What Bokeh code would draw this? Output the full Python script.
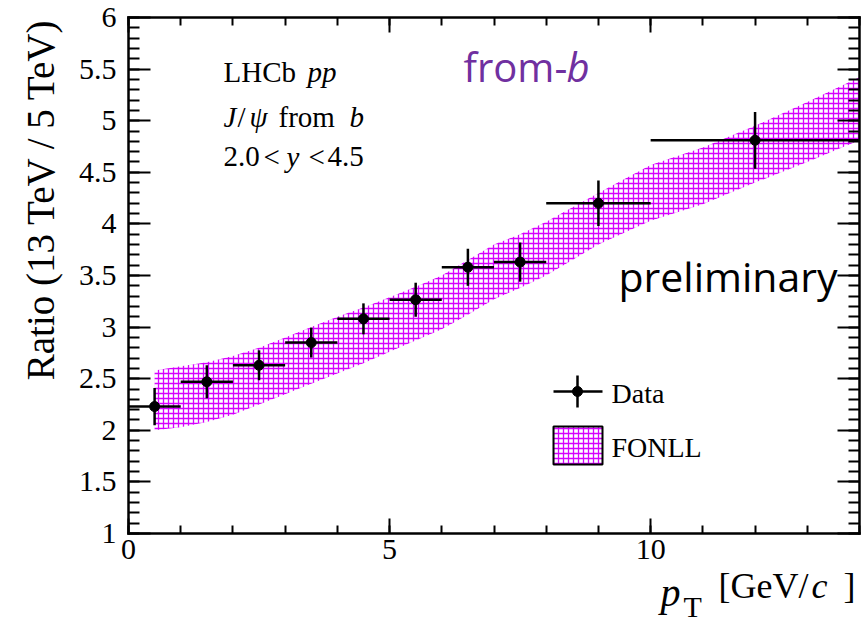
import math
from bokeh.plotting import figure
from bokeh.models import Range1d, FixedTicker, LinearAxis, Label, BoxAnnotation, Arrow
from bokeh.embed import file_html
from bokeh.resources import INLINE

# ---------------- data ----------------
bin_lo = [0, 1, 2, 3, 4, 5, 6, 7, 8, 10]
bin_hi = [1, 2, 3, 4, 5, 6, 7, 8, 10, 14]
bin_center = [0.5, 1.5, 2.5, 3.5, 4.5, 5.5, 6.5, 7.5, 9, 12]
ratio = [2.23, 2.47, 2.63, 2.85, 3.08, 3.265, 3.58, 3.63, 4.20, 4.81]
ratio_err = [0.18, 0.16, 0.145, 0.145, 0.15, 0.165, 0.18, 0.19, 0.22, 0.275]

fonll_pt = [0.5, 1, 1.5, 2, 2.5, 3, 3.5, 4, 4.5, 5, 5.5, 6, 6.5, 7, 7.5, 8, 9, 10, 11, 12, 13, 14]
fonll_hi = [2.58, 2.62, 2.66, 2.72, 2.80, 2.90, 3.00, 3.10, 3.19, 3.29, 3.39, 3.50, 3.65, 3.80, 3.90, 4.02, 4.30, 4.57, 4.74, 4.95, 5.18, 5.42]
fonll_lo = [2.00, 2.03, 2.08, 2.15, 2.25, 2.35, 2.45, 2.55, 2.65, 2.76, 2.87, 2.98, 3.12, 3.27, 3.38, 3.50, 3.80, 4.03, 4.19, 4.40, 4.60, 4.81]

x_ticks = [0, 5, 10]
x_tick_labels = ["0", "5", "10"]
y_ticks = [1, 1.5, 2, 2.5, 3, 3.5, 4, 4.5, 5, 5.5, 6]
y_tick_labels = ["1", "1.5", "2", "2.5", "3", "3.5", "4", "4.5", "5", "5.5", "6"]

MAG = "#D600FF"
SERIF = "Liberation Serif"
SANS = "Open Sans"

# ---------------- layout ----------------
W, H = 864, 626
FL, FR, FT, FB = 128, 859, 17, 533          # pixel box of the data area
XMIN, XMAX, YMIN, YMAX = 0, 14, 1, 6
SX = (XMAX - XMIN) / (FR - FL)
SY = (YMAX - YMIN) / (FB - FT)


def X(px):
    return XMIN + (px - FL) * SX


def Y(py):
    return YMAX - (py - FT) * SY


# the Bokeh frame covers the whole canvas; axes are pinned to the data box
p = figure(width=W, height=H,
           x_range=Range1d(X(0), X(W)), y_range=Range1d(Y(H), Y(0)),
           output_backend="svg", toolbar_location=None,
           min_border_left=0, min_border_right=0, min_border_top=0, min_border_bottom=0,
           background_fill_color="white", border_fill_color="white")
p.grid.visible = False
p.outline_line_color = None

x_minor = list(range(0, 15))
y_minor = [round(1 + 0.1 * i, 2) for i in range(51)]


def style_axis(ax, ticks, minor, labels, maj_len, min_len, show_labels, standoff, loc, bounds):
    ax.fixed_location = loc
    ax.bounds = bounds
    ax.ticker = FixedTicker(ticks=ticks, minor_ticks=minor)
    ax.major_tick_in = maj_len
    ax.major_tick_out = 0
    ax.minor_tick_in = min_len
    ax.minor_tick_out = 0
    ax.major_tick_line_width = 2
    ax.minor_tick_line_width = 2
    ax.axis_line_width = 2.5
    ax.axis_line_cap = "square"
    ax.major_tick_line_color = "black"
    ax.minor_tick_line_color = "black"
    ax.axis_line_color = "black"
    ax.major_label_text_font = SERIF
    if show_labels:
        ax.major_label_overrides = {t: l for t, l in zip(ticks, labels)}
        ax.major_label_text_color = "black"
        ax.major_label_text_font_size = "30px"
        ax.major_label_standoff = standoff
    else:
        ax.major_label_text_color = None
        ax.major_label_standoff = 0


style_axis(p.xaxis[0], x_ticks, x_minor, x_tick_labels, 15, 8, True, 6, YMIN, (XMIN, XMAX))
style_axis(p.yaxis[0], y_ticks, y_minor, y_tick_labels, 22, 11, True, 12, XMIN, (YMIN, YMAX))

top_ax = LinearAxis()
style_axis(top_ax, x_ticks, x_minor, x_tick_labels, 15, 8, False, 0, YMAX, (XMIN, XMAX))
p.add_layout(top_ax, "above")
right_ax = LinearAxis()
style_axis(right_ax, y_ticks, y_minor, y_tick_labels, 22, 11, False, 0, XMAX, (YMIN, YMAX))
p.add_layout(right_ax, "right")

# ---------------- FONLL band ----------------
p.varea(x=fonll_pt, y1=fonll_lo, y2=fonll_hi, fill_color=None,
        hatch_pattern="+", hatch_color=MAG, hatch_scale=5, hatch_weight=1.3)

# ---------------- data points ----------------
err_lo = [r - e for r, e in zip(ratio, ratio_err)]
err_hi = [r + e for r, e in zip(ratio, ratio_err)]
p.segment(x0=bin_lo, y0=ratio, x1=bin_hi, y1=ratio, line_color="black", line_width=2.5)
p.segment(x0=bin_center, y0=err_lo, x1=bin_center, y1=err_hi, line_color="black", line_width=2.5)
p.scatter(x=bin_center, y=ratio, size=10, marker="circle", fill_color="black", line_color="black")


# ---------------- texts ----------------
def txt(s, px, py, size, font=SERIF, style="normal", color="black", align="left", angle=0.0):
    # empirical shift so that (px, py) is the text baseline
    k = 0.37 if font == SERIF else 0.42
    if angle == 0.0:
        yy, xx = py - k * size, px
    else:
        yy, xx = py, px - k * size
    p.add_layout(Label(x=X(xx), y=Y(yy), text=s, text_font=font, text_font_size=f"{size}px",
                       text_font_style=style, text_color=color, text_align=align,
                       text_baseline="alphabetic", angle=angle))


# y title
txt("Ratio (13 TeV / 5 TeV)", 54, 18, 39, align="right", angle=math.pi / 2)
# x title
txt("p", 660, 607, 40, style="italic")
txt("T", 683, 617, 30)
txt("[GeV/", 718, 599, 36)
txt("c", 811, 599, 36, style="italic")
txt("]", 843, 599, 36)

# top-left block
txt("LHCb", 223, 82, 29)
txt("pp", 307, 82, 29, style="italic")
txt("J", 223, 127, 29, style="italic")
txt("/", 237, 127, 29)
txt("\u03c8", 249, 127, 29, style="italic")
txt("from", 278, 127, 29)
txt("b", 349, 127, 29, style="italic")
txt("2.0", 223, 167, 29)
txt("<", 263, 167, 29)
txt("y", 286, 167, 29, style="italic")
txt("<", 308, 167, 29)
txt("4.5", 327, 167, 29)

txt("from-", 463, 83, 40, font=SANS, color="#7030A0")
txt("b", 566, 83, 40, font=SANS, style="italic", color="#7030A0")
txt("preliminary", 618, 293, 41, font=SANS)

# ---------------- legend ----------------
p.add_layout(Arrow(end=None, x_start=X(553), y_start=Y(391), x_end=X(602), y_end=Y(391),
                   line_color="black", line_width=2.5))
p.add_layout(Arrow(end=None, x_start=X(577), y_start=Y(375), x_end=X(577), y_end=Y(407),
                   line_color="black", line_width=2.5))
p.add_layout(BoxAnnotation(left=X(572), right=X(582), top=Y(386), bottom=Y(396),
                           fill_color="black", fill_alpha=1, line_color="black", line_alpha=1,
                           border_radius=5))
txt("Data", 611, 403, 28)
p.add_layout(BoxAnnotation(left=X(553), right=X(602), top=Y(426), bottom=Y(464),
                           fill_color="white", fill_alpha=1, line_color="black", line_alpha=1,
                           line_width=2, hatch_pattern="+", hatch_color=MAG, hatch_scale=5,
                           hatch_weight=1.3))
txt("FONLL", 611, 457, 28)

open("out.html", "w").write(file_html(p, INLINE))
